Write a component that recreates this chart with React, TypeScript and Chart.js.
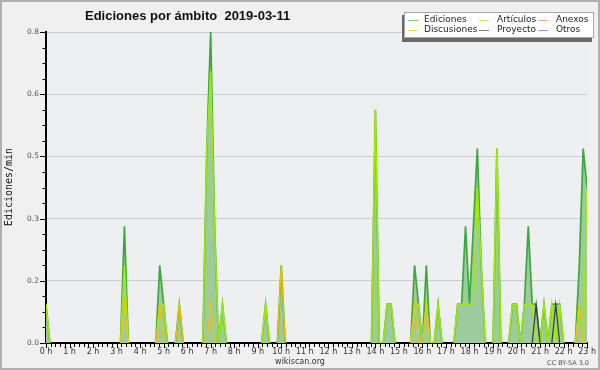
import React, { useEffect, useRef } from 'react';
import { Chart, registerables } from 'chart.js';

Chart.register(...registerables);

const chartTitle = 'Ediciones por ámbito  2019-03-11';
const yAxisTitle = 'Ediciones/min';
const siteLabel = 'wikiscan.org';
const licenseLabel = 'CC BY-SA 3.0';

// one data point every 10 minutes
const binMinutes = 10;

const hourLabels = [
  '0 h', '1 h', '2 h', '3 h', '4 h', '5 h', '6 h', '7 h', '8 h', '9 h', '10 h', '11 h',
  '12 h', '13 h', '14 h', '15 h', '16 h', '17 h', '18 h', '19 h', '20 h', '21 h', '22 h', '23 h',
];
const xMinorPerHour = 5;

const yTickValues = [
  0, 0.04, 0.08, 0.12, 0.16, 0.2, 0.24, 0.28, 0.32, 0.36, 0.4,
  0.44, 0.48, 0.52, 0.56, 0.6, 0.64, 0.68, 0.72, 0.76, 0.8,
];
const yMajorEvery = 4;

const seriesNames = ['Ediciones', 'Artículos', 'Anexos', 'Discusiones', 'Proyecto', 'Otros'];
const seriesColors = ['#3aaa3e', '#a2ea00', '#f07848', '#f2c200', '#3a3a3a', '#9a4cf0'];
const edicionesFill = '#9ecb9e';

// one row per hour: values at :00 :10 :20 :30 :40 :50 (last row: 23:00)
const ediciones = [
  [0.1, 0, 0, 0, 0, 0],
  [0, 0, 0, 0, 0, 0],
  [0, 0, 0, 0, 0, 0],
  [0, 0, 0.3, 0, 0, 0],
  [0, 0, 0, 0, 0, 0.2],
  [0.1, 0, 0, 0, 0.1, 0],
  [0, 0, 0, 0, 0, 0.5],
  [0.8, 0.3, 0, 0.1, 0, 0],
  [0, 0, 0, 0, 0, 0],
  [0, 0, 0.1, 0, 0, 0],
  [0.2, 0, 0, 0, 0, 0],
  [0, 0, 0, 0, 0, 0],
  [0, 0, 0, 0, 0, 0],
  [0, 0, 0, 0, 0, 0],
  [0.6, 0, 0, 0.1, 0.1, 0],
  [0, 0, 0, 0, 0.2, 0.1],
  [0, 0.2, 0, 0, 0.1, 0],
  [0, 0, 0, 0.1, 0.1, 0.3],
  [0.1, 0.3, 0.5, 0.2, 0, 0],
  [0, 0.5, 0, 0, 0, 0.1],
  [0.1, 0, 0.1, 0.3, 0.1, 0.1],
  [0, 0.1, 0, 0.1, 0.1, 0.1],
  [0, 0, 0, 0, 0.2, 0.5],
  [0.4],
].flat();

const articulos = [
  [0.1, 0, 0, 0, 0, 0],
  [0, 0, 0, 0, 0, 0],
  [0, 0, 0, 0, 0, 0],
  [0, 0, 0.2, 0, 0, 0],
  [0, 0, 0, 0, 0, 0.1],
  [0.1, 0, 0, 0, 0, 0],
  [0, 0, 0, 0, 0, 0.5],
  [0.7, 0.3, 0, 0.1, 0, 0],
  [0, 0, 0, 0, 0, 0],
  [0, 0, 0.1, 0, 0, 0],
  [0, 0, 0, 0, 0, 0],
  [0, 0, 0, 0, 0, 0],
  [0, 0, 0, 0, 0, 0],
  [0, 0, 0, 0, 0, 0],
  [0.6, 0, 0, 0.1, 0.1, 0],
  [0, 0, 0, 0, 0.1, 0.1],
  [0, 0.1, 0, 0, 0.1, 0],
  [0, 0, 0, 0.1, 0.1, 0.1],
  [0.1, 0.1, 0.4, 0.2, 0, 0],
  [0, 0.5, 0, 0, 0, 0.1],
  [0.1, 0, 0.1, 0.1, 0.1, 0],
  [0, 0.1, 0, 0.1, 0, 0.1],
  [0, 0, 0, 0, 0.1, 0],
  [0.4],
].flat();

const anexos = [
  [0, 0, 0, 0, 0, 0],
  [0, 0, 0, 0, 0, 0],
  [0, 0, 0, 0, 0, 0],
  [0, 0, 0, 0, 0, 0],
  [0, 0, 0, 0, 0, 0],
  [0, 0, 0, 0, 0, 0],
  [0, 0, 0, 0, 0, 0],
  [0, 0, 0, 0, 0, 0],
  [0, 0, 0, 0, 0, 0],
  [0, 0, 0, 0, 0, 0],
  [0, 0, 0, 0, 0, 0],
  [0, 0, 0, 0, 0, 0],
  [0, 0, 0, 0, 0, 0],
  [0, 0, 0, 0, 0, 0],
  [0, 0, 0, 0, 0, 0],
  [0, 0, 0, 0, 0, 0],
  [0, 0, 0, 0, 0, 0],
  [0, 0, 0, 0, 0, 0],
  [0, 0, 0, 0, 0, 0],
  [0, 0, 0, 0, 0, 0],
  [0, 0, 0, 0, 0, 0],
  [0, 0, 0, 0, 0, 0],
  [0, 0, 0, 0, 0, 0],
  [0],
].flat();

const discusiones = [
  [0, 0, 0, 0, 0, 0],
  [0, 0, 0, 0, 0, 0],
  [0, 0, 0, 0, 0, 0],
  [0, 0, 0.1, 0, 0, 0],
  [0, 0, 0, 0, 0, 0.1],
  [0, 0, 0, 0, 0.1, 0],
  [0, 0, 0, 0, 0, 0],
  [0.1, 0, 0, 0, 0, 0],
  [0, 0, 0, 0, 0, 0],
  [0, 0, 0, 0, 0, 0],
  [0.2, 0, 0, 0, 0, 0],
  [0, 0, 0, 0, 0, 0],
  [0, 0, 0, 0, 0, 0],
  [0, 0, 0, 0, 0, 0],
  [0, 0, 0, 0, 0, 0],
  [0, 0, 0, 0, 0.1, 0],
  [0, 0.1, 0, 0, 0, 0],
  [0, 0, 0, 0, 0, 0],
  [0, 0, 0, 0, 0, 0],
  [0, 0, 0, 0, 0, 0],
  [0, 0, 0, 0, 0, 0],
  [0, 0, 0, 0, 0, 0],
  [0, 0, 0, 0, 0.1, 0],
  [0],
].flat();

const proyecto = [
  [0, 0, 0, 0, 0, 0],
  [0, 0, 0, 0, 0, 0],
  [0, 0, 0, 0, 0, 0],
  [0, 0, 0, 0, 0, 0],
  [0, 0, 0, 0, 0, 0],
  [0, 0, 0, 0, 0, 0],
  [0, 0, 0, 0, 0, 0],
  [0, 0, 0, 0, 0, 0],
  [0, 0, 0, 0, 0, 0],
  [0, 0, 0, 0, 0, 0],
  [0, 0, 0, 0, 0, 0],
  [0, 0, 0, 0, 0, 0],
  [0, 0, 0, 0, 0, 0],
  [0, 0, 0, 0, 0, 0],
  [0, 0, 0, 0, 0, 0],
  [0, 0, 0, 0, 0, 0],
  [0, 0, 0, 0, 0, 0],
  [0, 0, 0, 0, 0, 0],
  [0, 0, 0, 0, 0, 0],
  [0, 0, 0, 0, 0, 0],
  [0, 0, 0, 0, 0, 0.1],
  [0, 0, 0, 0, 0.1, 0],
  [0, 0, 0, 0, 0, 0],
  [0],
].flat();

const otros = [
  [0, 0, 0, 0, 0, 0],
  [0, 0, 0, 0, 0, 0],
  [0, 0, 0, 0, 0, 0],
  [0, 0, 0, 0, 0, 0],
  [0, 0, 0, 0, 0, 0],
  [0, 0, 0, 0, 0, 0],
  [0, 0, 0, 0, 0, 0],
  [0, 0, 0, 0, 0, 0],
  [0, 0, 0, 0, 0, 0],
  [0, 0, 0, 0, 0, 0],
  [0, 0, 0, 0, 0, 0],
  [0, 0, 0, 0, 0, 0],
  [0, 0, 0, 0, 0, 0],
  [0, 0, 0, 0, 0, 0],
  [0, 0, 0, 0, 0, 0],
  [0, 0, 0, 0, 0, 0],
  [0, 0, 0, 0, 0, 0],
  [0, 0, 0, 0, 0, 0],
  [0, 0, 0, 0, 0, 0],
  [0, 0, 0, 0, 0, 0],
  [0, 0, 0, 0, 0, 0],
  [0, 0, 0, 0, 0, 0],
  [0, 0, 0, 0, 0, 0],
  [0],
].flat();

const seriesValues = [ediciones, articulos, anexos, discusiones, proyecto, otros];
// lower order is painted on top
const drawOrder = [5, 2, 3, 1, 0, 4];
const lineWidths = [1.7, 1.5, 1.3, 1.3, 1.2, 1.3];

// keep a zero only where it ends a non-zero stretch, so nothing runs along the baseline
function toPoints(vals: number[]) {
  return vals.map((v, i) => {
    const prev = i > 0 ? vals[i - 1] : 0;
    const next = i < vals.length - 1 ? vals[i + 1] : 0;
    const y = v === 0 && prev === 0 && next === 0 ? null : v;
    return { x: (i * binMinutes) / 60, y };
  });
}

const decorPlugin = {
  id: 'decor',
  beforeDraw(chart: any) {
    const { ctx, chartArea: a, width, height } = chart;
    ctx.save();
    ctx.fillStyle = '#f0f0f0';
    ctx.fillRect(0, 0, width, height);
    ctx.fillStyle = '#eeeff1';
    ctx.fillRect(a.left, a.top, a.right - a.left, a.bottom - a.top);
    ctx.strokeStyle = '#b0b0b0';
    ctx.lineWidth = 2;
    ctx.strokeRect(1, 1, width - 2, height - 2);
    ctx.restore();
  },
  afterDraw(chart: any) {
    const { ctx, chartArea: a, scales } = chart;
    const xs = scales.x;
    const ys = scales.y;
    ctx.save();
    // tick marks
    ctx.strokeStyle = '#000';
    ctx.lineWidth = 1;
    ctx.beginPath();
    xs.ticks.forEach((t: any, i: number) => {
      const px = Math.round(xs.getPixelForValue(t.value)) + 0.5;
      const len = i % xMinorPerHour === 0 ? 5 : 4;
      ctx.moveTo(px, a.bottom);
      ctx.lineTo(px, a.bottom + len);
    });
    ys.ticks.forEach((t: any, i: number) => {
      const py = Math.round(ys.getPixelForValue(t.value)) + 0.5;
      const len = i % yMajorEvery === 0 ? 6 : 3.5;
      ctx.moveTo(a.left - len, py);
      ctx.lineTo(a.left, py);
    });
    ctx.stroke();

    // title
    ctx.fillStyle = '#111';
    ctx.font = 'bold 13px "Liberation Sans"';
    ctx.textAlign = 'left';
    ctx.textBaseline = 'alphabetic';
    ctx.fillText(chartTitle, 85, 20);

    // y axis title
    ctx.save();
    ctx.translate(9, 187);
    ctx.rotate(-Math.PI / 2);
    ctx.font = '10px "DejaVu Sans Mono"';
    ctx.textAlign = 'center';
    ctx.textBaseline = 'middle';
    ctx.fillStyle = '#111';
    ctx.fillText(yAxisTitle, 0, 0);
    ctx.restore();

    // footer texts
    ctx.fillStyle = '#333';
    ctx.font = '8px "DejaVu Sans"';
    ctx.textAlign = 'center';
    ctx.textBaseline = 'alphabetic';
    ctx.fillText(siteLabel, 300, 364);
    ctx.fillStyle = '#555';
    ctx.font = '6.5px "DejaVu Sans"';
    ctx.textAlign = 'right';
    ctx.fillText(licenseLabel, 589, 365);

    // legend box with shadow
    ctx.fillStyle = '#6a6a6a';
    ctx.fillRect(402, 15, 190, 27);
    ctx.fillStyle = '#ffffff';
    ctx.fillRect(404, 12, 190, 26);
    ctx.strokeStyle = '#a8a8a8';
    ctx.lineWidth = 1;
    ctx.strokeRect(404.5, 12.5, 189, 25);

    const sampleX = [408, 479, 538];
    const textX = [424, 497, 556];
    const rowY = [19.5, 29.5];
    ctx.font = '9px "DejaVu Sans"';
    ctx.textAlign = 'left';
    ctx.textBaseline = 'middle';
    chart.data.datasets.forEach((ds: any, k: number) => {
      const col = k % 3;
      const row = Math.floor(k / 3);
      const y = rowY[row];
      ctx.save();
      ctx.globalAlpha = 0.65;
      ctx.strokeStyle = seriesColors[k];
      ctx.lineWidth = 1;
      ctx.beginPath();
      ctx.moveTo(sampleX[col], Math.round(y) + 0.5);
      ctx.lineTo(sampleX[col] + 10, Math.round(y) + 0.5);
      ctx.stroke();
      ctx.restore();
      ctx.fillStyle = '#222';
      ctx.fillText(ds.label, textX[col], y);
    });
    ctx.restore();
  },
};

export default function App() {
  const canvasRef = useRef<HTMLCanvasElement>(null);

  useEffect(() => {
    document.body.style.margin = '0';
    const canvas = canvasRef.current;
    if (!canvas) return;

    const xTickValues: number[] = [];
    for (let h = 0; h < hourLabels.length - 1; h++) {
      for (let k = 0; k < xMinorPerHour; k++) xTickValues.push(h + k / xMinorPerHour);
    }
    xTickValues.push(hourLabels.length - 1);

    const datasets = seriesValues.map((vals, k) => ({
      label: seriesNames[k],
      data: toPoints(vals),
      borderColor: seriesColors[k],
      backgroundColor: k === 0 ? edicionesFill : 'rgba(0,0,0,0)',
      fill: k === 0 ? 'origin' : false,
      borderWidth: lineWidths[k],
      pointRadius: 0,
      tension: 0,
      spanGaps: false,
      order: drawOrder[k],
    }));

    const tickFont = { family: 'DejaVu Sans', size: 8 };

    const chart = new Chart(canvas, {
      type: 'line',
      data: { datasets },
      plugins: [decorPlugin],
      options: {
        responsive: false,
        animation: false,
        devicePixelRatio: 1,
        layout: { padding: { left: 0, right: 11, top: 32, bottom: 0 } },
        plugins: {
          legend: { display: false },
          title: { display: false },
          tooltip: { enabled: false },
        },
        scales: {
          x: {
            type: 'linear',
            min: 0,
            max: hourLabels.length - 1,
            afterBuildTicks: (s: any) => {
              s.ticks = xTickValues.map((v) => ({ value: v }));
            },
            afterFit: (s: any) => {
              s.height = 27;
            },
            grid: { display: false, drawTicks: false },
            border: { display: true, color: '#000', width: 2 },
            ticks: {
              autoSkip: false,
              maxRotation: 0,
              minRotation: 0,
              padding: 4,
              color: '#333',
              font: tickFont,
              callback: (value: any, index: number) =>
                index % xMinorPerHour === 0 ? hourLabels[index / xMinorPerHour] : '',
            },
          },
          y: {
            type: 'linear',
            min: yTickValues[0],
            max: yTickValues[yTickValues.length - 1],
            afterBuildTicks: (s: any) => {
              s.ticks = yTickValues.map((v) => ({ value: v }));
            },
            afterFit: (s: any) => {
              s.width = 46;
            },
            grid: {
              drawTicks: false,
              lineWidth: 1,
              color: (ctx: any) => (ctx.index % yMajorEvery === 0 ? '#cdcdcd' : 'rgba(0,0,0,0)'),
            },
            border: { display: true, color: '#000', width: 2 },
            ticks: {
              autoSkip: false,
              padding: 7,
              color: '#555',
              font: { family: 'DejaVu Sans', size: 7.5 },
              callback: (value: any, index: number) =>
                index % yMajorEvery === 0 ? Number(value).toFixed(1) : '',
            },
          },
        },
      } as any,
    });

    return () => chart.destroy();
  }, []);

  return (
    <div style={{ width: 600, height: 370 }}>
      <canvas ref={canvasRef} width={600} height={370} style={{ display: 'block' }} />
    </div>
  );
}
